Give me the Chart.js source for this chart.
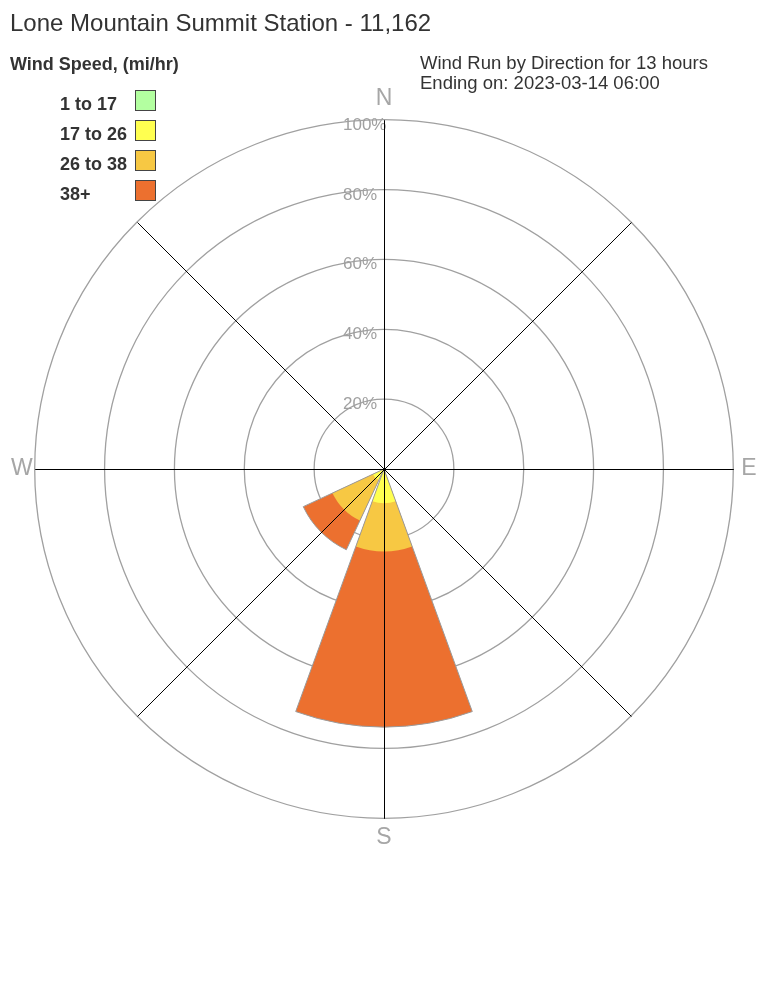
<!DOCTYPE html>
<html>
<head>
<meta charset="utf-8">
<script src="https://cdn.jsdelivr.net/npm/chart.js@4.4.0/dist/chart.umd.min.js"></script>
<style>
  body { margin: 0; background: #fff; }
  #wrap { position: relative; width: 768px; height: 1008px; font-family: "Liberation Sans", Arial, sans-serif; color: #333; }
  #rose { position: absolute; left: 0; top: 0; }
  .txt { position: absolute; line-height: 1; white-space: nowrap; }
  .sub { position: absolute; left: 420px; top: 53px; font-size: 18.5px; line-height: 20px; white-space: nowrap; }
  .key { position: absolute; left: 135px; width: 21px; height: 21px; box-sizing: border-box; border: 1px solid #444; }
  .lbl { left: 60px; font-size: 18px; font-weight: bold; }
</style>
</head>
<body>
<div id="wrap">
  <canvas id="rose" width="768" height="1008"></canvas>
  <div class="txt" style="left:10px; top:11px; font-size:24px;">Lone Mountain Summit Station - 11,162</div>
  <div class="txt" style="left:10px; top:55px; font-size:18px; font-weight:bold;">Wind Speed, (mi/hr)</div>
  <div class="sub">Wind Run by Direction for 13 hours<br>Ending on: 2023-03-14 06:00</div>
  <div id="legend"></div>
</div>
<script>
var directions = ['N', 'NE', 'E', 'SE', 'S', 'SW', 'W', 'NW'];
var speedBins = ['1 to 17', '17 to 26', '26 to 38', '38+'];
var run1to17  = [0, 0, 0, 0, 0,    0,    0, 0];
var run17to26 = [0, 0, 0, 0, 9.8,  3.5,  0, 0];
var run26to38 = [0, 0, 0, 0, 13.8, 12.8, 0, 0];
var run38plus = [0, 0, 0, 0, 50.3, 9.2,  0, 0];
var compassLabels = ['N', '', 'E', '', 'S', '', 'W', ''];

var binColors = ['#b3ffa0', '#ffff50', '#f7c843', '#ec702f'];
var labelPad = [7, 0, 8, 0, 6, 0, 2, 0];
var barAngle = 40, gapAngle = 5;

// legend (html)
var legend = document.getElementById('legend');
speedBins.forEach(function(name, i) {
  var t = document.createElement('div');
  t.className = 'txt lbl';
  t.style.top = (95 + i * 30) + 'px';
  t.textContent = name;
  legend.appendChild(t);
  var b = document.createElement('div');
  b.className = 'key';
  b.style.top = (90 + i * 30) + 'px';
  b.style.background = binColors[i];
  legend.appendChild(b);
});

// cumulative stacks so the rose draws as stacked wedges
var bins = [run1to17, run17to26, run26to38, run38plus];
var cum = [];
var running = directions.map(function() { return 0; });
bins.forEach(function(arr) {
  running = running.map(function(v, i) { return v + arr[i]; });
  cum.push(running.slice());
});

// each sector centered on its direction: N is split in two halves, gaps between wedges
function spread(vals) {
  var out = [vals[0], 0];
  for (var i = 1; i < vals.length; i++) out.push(vals[i], 0);
  out.push(vals[0]);
  return out;
}
var sectorAngles = [barAngle / 2, gapAngle];
for (var i = 1; i < directions.length; i++) sectorAngles.push(barAngle, gapAngle);
sectorAngles.push(barAngle / 2);

var slotLabels = [directions[0], ''];
for (var k = 1; k < directions.length; k++) slotLabels.push(directions[k], '');
slotLabels.push(directions[0]);

function angleFn(c) { return sectorAngles[c.dataIndex]; }

var datasets = [{
  label: 'outline',
  data: spread(cum[3]),
  backgroundColor: 'rgba(0,0,0,0)',
  borderColor: '#9a9a9a',
  borderWidth: function(c) { return c.raw > 0 ? 1 : 0; },
  angle: angleFn
}];
for (var b = 0; b < bins.length; b++) {
  datasets.push({
    label: speedBins[b],
    data: spread(cum[b]),
    backgroundColor: binColors[b],
    borderWidth: 0,
    angle: angleFn
  });
}

var roseOverlay = {
  id: 'roseOverlay',
  afterDatasetsDraw: function(chart) {
    var r = chart.scales.r, ctx = chart.ctx;
    ctx.save();
    ctx.font = '17px "Liberation Sans", Arial, sans-serif';
    ctx.fillStyle = '#a0a0a0';
    ctx.textAlign = 'left';
    ctx.textBaseline = 'alphabetic';
    r.ticks.forEach(function(t) {
      if (t.value <= 0) return;
      ctx.fillText(t.value + '%', r.xCenter - 41, r.yCenter - r.getDistanceFromCenterForValue(t.value) + 10);
    });
    ctx.strokeStyle = '#000';
    ctx.lineWidth = 1;
    for (var i = 0; i < compassLabels.length; i++) {
      var p = r.getPointPosition(i, r.drawingArea);
      ctx.beginPath();
      ctx.moveTo(r.xCenter + 0.5, r.yCenter + 0.5);
      ctx.lineTo(p.x + 0.5, p.y + 0.5);
      ctx.stroke();
    }
    ctx.restore();
  }
};

new Chart(document.getElementById('rose').getContext('2d'), {
  type: 'polarArea',
  data: {
    labels: slotLabels,
    datasets: datasets
  },
  options: {
    responsive: false,
    animation: false,
    layout: { padding: { left: 11, right: 11, top: 0, bottom: 70 } },
    plugins: {
      legend: { display: false },
      tooltip: { enabled: false }
    },
    scales: {
      r: {
        min: 0,
        max: 100,
        startAngle: 0,
        labels: compassLabels,
        ticks: { stepSize: 20, display: false },
        grid: { circular: true, color: '#a0a0a0', lineWidth: 1.3 },
        angleLines: { display: false },
        pointLabels: {
          display: true,
          color: '#a6a6a6',
          font: { family: '"Liberation Sans", Arial, sans-serif', size: 23 },
          padding: function(c) { return labelPad[c.index]; }
        }
      }
    }
  },
  plugins: [roseOverlay]
});
</script>
</body>
</html>
